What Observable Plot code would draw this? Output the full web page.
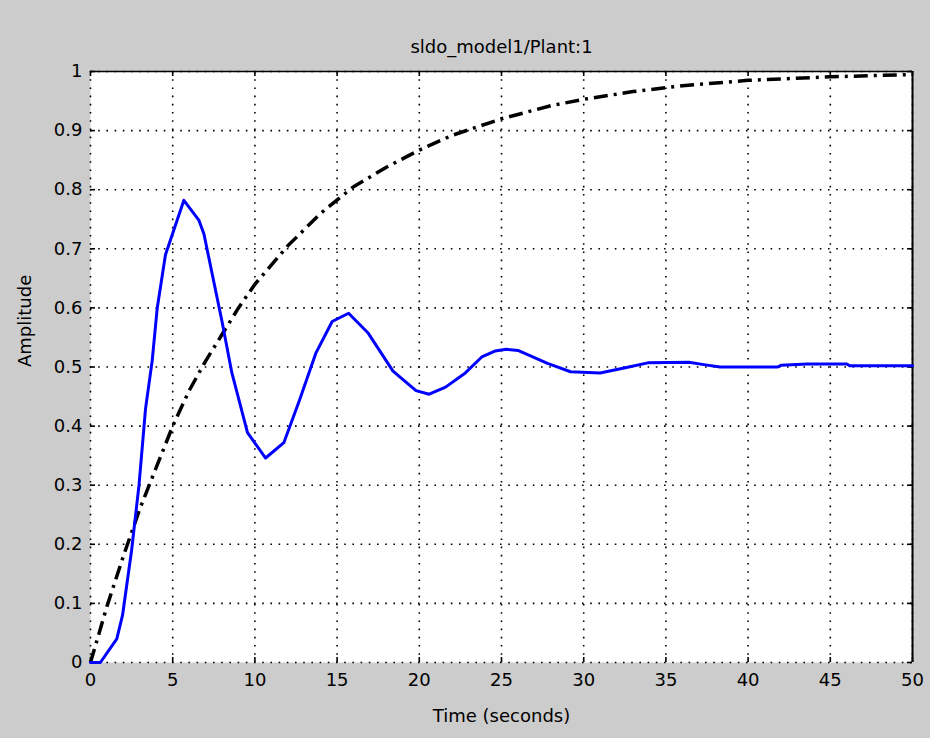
<!DOCTYPE html>
<html>
<head>
<meta charset="utf-8">
<script src="https://cdn.jsdelivr.net/npm/d3@7"></script>
<script src="https://cdn.jsdelivr.net/npm/@observablehq/plot@0.6"></script>
<style>
  html, body { margin: 0; padding: 0; background: #cccccc; }
  svg { display: block; }
</style>
</head>
<body>
<div id="chart"></div>
<script>
const titleText = "sldo_model1/Plant:1";
const xLabel = "Time (seconds)";
const yLabel = "Amplitude";

const xTicks = [0, 5, 10, 15, 20, 25, 30, 35, 40, 45, 50];
const yTicks = [0, 0.1, 0.2, 0.3, 0.4, 0.5, 0.6, 0.7, 0.8, 0.9, 1];

// Blue response
const blueT = [0, 0.6, 1.6, 1.95, 2.5, 2.95, 3.35, 3.75, 4.06, 4.56, 5.68, 6.6, 6.9, 8.0, 8.6, 9.55, 10.65, 11.76, 12.7, 13.7, 14.7, 15.7, 16.9, 18.4, 19.8, 20.6, 21.6, 22.8, 23.8, 24.6, 25.3, 26.0, 27.8, 29.2, 31.0, 32.6, 33.9, 36.4, 37.3, 38.3, 41.8, 42.0, 43.6, 46.0, 46.2, 50];
const blueY = [0, 0, 0.04, 0.08, 0.19, 0.30, 0.43, 0.51, 0.60, 0.69, 0.782, 0.748, 0.725, 0.577, 0.49, 0.389, 0.346, 0.372, 0.443, 0.523, 0.577, 0.591, 0.557, 0.493, 0.46, 0.454, 0.466, 0.49, 0.517, 0.527, 0.53, 0.528, 0.506, 0.492, 0.49, 0.499, 0.507, 0.508, 0.504, 0.5, 0.5, 0.503, 0.505, 0.505, 0.502, 0.502];

// Black dash-dot response
const blackT = [0, 1, 2, 3, 4, 5, 6, 7, 8, 9, 10, 12, 14, 16, 18, 20, 22, 25, 28, 30, 33, 36, 40, 45, 50];
const blackY = [0, 0.095, 0.18, 0.26, 0.33, 0.40, 0.46, 0.51, 0.555, 0.60, 0.64, 0.705, 0.76, 0.805, 0.838, 0.867, 0.892, 0.92, 0.942, 0.953, 0.966, 0.976, 0.985, 0.991, 0.995];

const blue = blueT.map((t, i) => ({t, y: blueY[i]}));
const black = blackT.map((t, i) => ({t, y: blackY[i]}));

const W = 930, H = 738;
const mL = 90, mR = 18, mT = 71, mB = 76;
const pw = W - mL - mR, ph = H - mT - mB;
const tickLen = 5;

const chart = Plot.plot({
  width: W,
  height: H,
  marginLeft: mL,
  marginRight: mR,
  marginTop: mT,
  marginBottom: mB,
  style: {background: "#cccccc", fontFamily: "DejaVu Sans, sans-serif", fontSize: "18px", color: "black"},
  x: {domain: [0, 50]},
  y: {domain: [0, 1]},
  marks: [
    Plot.frame({fill: "white", stroke: "none"}),
    Plot.gridX(xTicks, {stroke: "black", strokeOpacity: 1, strokeWidth: 1.6, strokeDasharray: "1.6,6.6"}),
    Plot.gridY(yTicks, {stroke: "black", strokeOpacity: 1, strokeWidth: 1.6, strokeDasharray: "1.6,6.6"}),
    Plot.ruleY([1], {stroke: "black", strokeWidth: 1.5}),
    Plot.ruleX([50], {stroke: "black", strokeWidth: 2}),
    // inward ticks
    Plot.tickX(xTicks, {x: d => d, insetTop: ph - tickLen, stroke: "black", strokeWidth: 1.6}),
    Plot.tickX(xTicks, {x: d => d, insetBottom: ph - tickLen, stroke: "black", strokeWidth: 1.6}),
    Plot.tickY(yTicks, {y: d => d, insetRight: pw - tickLen, stroke: "black", strokeWidth: 1.6}),
    Plot.tickY(yTicks, {y: d => d, insetLeft: pw - tickLen, stroke: "black", strokeWidth: 1.6}),
    Plot.line(black, {x: "t", y: "y", stroke: "black", strokeWidth: 3.5, strokeDasharray: "14,6,3,6", strokeLinecap: "butt"}),
    Plot.line(blue, {x: "t", y: "y", stroke: "#0000ff", strokeWidth: 3}),
    Plot.axisX(xTicks, {tickSize: 0, tickPadding: 11, label: null, fontSize: 18, tickFormat: d => String(d)}),
    Plot.axisY(yTicks, {tickSize: 0, tickPadding: 8, label: null, fontSize: 18, tickFormat: d => String(d)}),
    Plot.text([titleText], {text: d => d, frameAnchor: "top", dy: -31, fontSize: 18}),
    Plot.text([xLabel], {text: d => d, frameAnchor: "bottom", dy: 59, fontSize: 18}),
    Plot.text([yLabel], {text: d => d, frameAnchor: "left", dx: -65, rotate: -90, fontSize: 18})
  ]
});

document.getElementById("chart").appendChild(chart);
</script>
</body>
</html>
